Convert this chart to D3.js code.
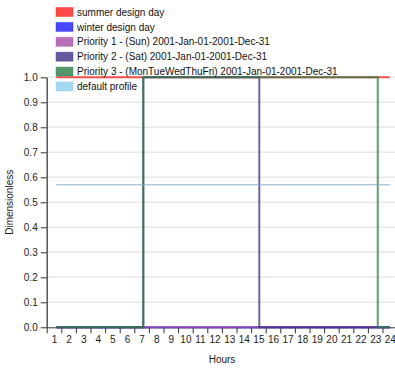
<!DOCTYPE html>
<html><head><meta charset="utf-8">
<script src="https://cdn.jsdelivr.net/npm/d3@7"></script>
<style>
body{margin:0;background:#fff;}
text{font-family:"Liberation Sans",Arial,sans-serif;}
</style></head>
<body><svg id="c" width="395" height="368"></svg>
<script>
// ---- data ----
const hourLabels = d3.range(1, 25);            // tick labels 1..24
const yTicks = d3.range(0, 11).map(d => d / 10);
const seriesNames = [
  "summer design day",
  "winter design day",
  "Priority 1 - (Sun) 2001-Jan-01-2001-Dec-31",
  "Priority 2 - (Sat) 2001-Jan-01-2001-Dec-31",
  "Priority 3 - (MonTueWedThuFri) 2001-Jan-01-2001-Dec-31",
  "default profile"
];
const seriesColors = ["#ff1a1a", "#1a1aff", "#a64ca6", "#3d3185", "#2a7d45", "#8fcdf0"];
// step breakpoints: [hour, value]
const summerDesign = [[1, 1], [24, 1]];
const winterDesign = [[1, 0], [24, 0]];
const prioritySun  = [[1, 0], [24, 0]];
const prioritySat  = [[1, 0], [7, 1], [15, 0], [24, 0]];
const priorityWeek = [[1, 0], [7, 1], [23.17, 0], [24, 0]];
const defaultProfile = [[1, 0.57], [24, 0.57]];
const seriesData = [summerDesign, winterDesign, prioritySun, prioritySat, priorityWeek, defaultProfile];

// ---- layout ----
const svg = d3.select("#c");
const mLeft = 46.7, mTop = 77.3, mBottom = 327.3, mRight = 395;
const bandW = 14.6;
const xAxisScale = d3.scaleLinear().domain([0, 24]).range([mLeft, mLeft + 24 * bandW]);
const x = d3.scaleLinear().domain([1, 24]).range([56.3, 389.8]);
const y = d3.scaleLinear().domain([0, 1]).range([mBottom, mTop]);
const FS = 10;

// grid
svg.append("g").selectAll("line").data(yTicks.slice(1)).join("line")
  .attr("x1", mLeft).attr("x2", mRight)
  .attr("y1", d => y(d)).attr("y2", d => y(d))
  .attr("stroke", "#e8e8e8").attr("stroke-width", 1.5);

// y axis
const gy = svg.append("g").attr("transform", `translate(${mLeft},0)`)
  .call(d3.axisLeft(y).tickValues(yTicks).tickFormat(d3.format(".1f")).tickSize(6).tickSizeOuter(0));
gy.select(".domain").attr("stroke", "#555").attr("stroke-width", 1.5);
gy.selectAll(".tick line").attr("stroke", "#333");
gy.selectAll("text").attr("font-size", FS).attr("fill", "#222")
  .attr("font-family", "Liberation Sans, Arial, sans-serif");

// x axis
const gx = svg.append("g").attr("transform", `translate(0,${mBottom})`)
  .call(d3.axisBottom(xAxisScale).tickValues(d3.range(0, 24)).tickFormat(d => hourLabels[d]).tickSize(6).tickSizeOuter(0));
gx.select(".domain").attr("stroke", "#333").attr("d", `M${mLeft},0.5H${mRight}`);
gx.selectAll(".tick line").attr("stroke", "#333");
gx.selectAll("text").attr("font-size", FS).attr("fill", "#222").attr("dx", bandW / 2)
  .attr("font-family", "Liberation Sans, Arial, sans-serif");

// axis titles
svg.append("text").attr("x", 222).attr("y", 363).attr("text-anchor", "middle")
  .attr("font-size", FS).attr("fill", "#222").text("Hours");
svg.append("text").attr("transform", `translate(13,${(mTop + mBottom) / 2}) rotate(-90)`)
  .attr("text-anchor", "middle").attr("font-size", FS).attr("fill", "#222").text("Dimensionless");

// lines
const line = d3.line().x(d => x(d[0])).y(d => y(d[1])).curve(d3.curveStepAfter);
svg.append("g").selectAll("path").data(seriesData).join("path")
  .attr("d", line).attr("fill", "none")
  .attr("stroke", (d, i) => i === 5 ? "#7fa6c2" : seriesColors[i])
  .attr("stroke-width", (d, i) => i === 5 ? 1 : 2)
  .attr("stroke-opacity", (d, i) => i === 5 ? 0.9 : 0.75);

// legend
const lg = svg.append("g").selectAll("g").data(seriesNames).join("g")
  .attr("transform", (d, i) => `translate(56,${12 + i * 14.9})`);
lg.append("rect").attr("x", 0).attr("y", -4.5).attr("width", 17).attr("height", 9)
  .attr("fill", (d, i) => seriesColors[i]).attr("fill-opacity", 0.8)
  .attr("stroke", (d, i) => seriesColors[i]).attr("stroke-opacity", 0.4);
lg.append("text").attr("x", 21).attr("y", 3.6).attr("font-size", FS).attr("fill", "#111").text(d => d);
</script></body></html>
